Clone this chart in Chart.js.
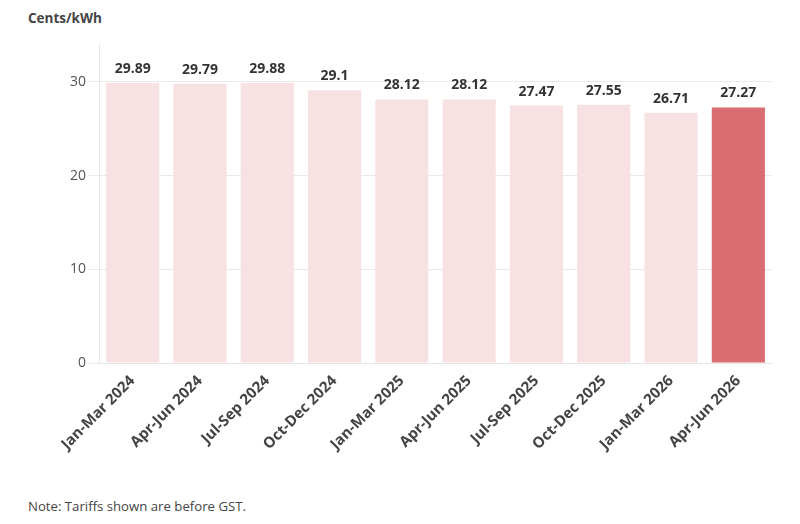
<!DOCTYPE html>
<html>
<head>
<meta charset="utf-8">
<script src="https://cdn.jsdelivr.net/npm/chart.js@4"></script>
<style>
  body { margin: 0; background: #fff; font-family: "Open Sans", sans-serif; }
  #wrap { position: absolute; left: 0; top: 33px; width: 800px; height: 457px; }
  #title { position: absolute; left: 28px; top: 9px; font-size: 13.5px; font-weight: bold; color: #444; }
  #note { position: absolute; left: 28px; top: 497px; font-size: 13.2px; color: #444; }
</style>
</head>
<body>
<div id="title">Cents/kWh</div>
<div id="wrap"><canvas id="myChart"></canvas></div>
<div id="note">Note: Tariffs shown are before GST.</div>
<script>

const quarters = ["Jan-Mar 2024", "Apr-Jun 2024", "Jul-Sep 2024", "Oct-Dec 2024", "Jan-Mar 2025",
  "Apr-Jun 2025", "Jul-Sep 2025", "Oct-Dec 2025", "Jan-Mar 2026", "Apr-Jun 2026"]
const tariffs = [29.89, 29.79, 29.88, 29.1, 28.12, 28.12, 27.47, 27.55, 26.71, 27.27]
const yTicks = [0, 10, 20, 30]


// labels over the bars
const barLabels = {
  id: 'barLabels',
  afterDatasetsDraw(chart) {
    const ctx = chart.ctx
    const meta = chart.getDatasetMeta(0)
    ctx.save()
    ctx.font = 'bold 14px "Open Sans", sans-serif'
    ctx.fillStyle = '#333'
    ctx.textAlign = 'center'
    ctx.textBaseline = 'bottom'
    meta.data.forEach((bar, i) => {
      ctx.fillText(String(tariffs[i]), bar.x, bar.y - 7)
    })
    ctx.restore()
  }
}

const ctx = document.getElementById('myChart')

new Chart(ctx, {
  type: 'bar',
  data: {
    labels: quarters,
    datasets: [{
      data: tariffs,
      backgroundColor: tariffs.map((v, i) => i === tariffs.length - 1 ? '#d96d71' : '#f7e1e2'),
      categoryPercentage: 0.79,
      barPercentage: 1
    }]
  },
  options: {
    responsive: true,
    maintainAspectRatio: false,
    animation: false,
    layout: { padding: { left: 0, right: 28, top: 0, bottom: 0 } },
    plugins: { legend: { display: false }, tooltip: { enabled: false } },
    scales: {
      x: {
        afterFit: axis => { axis.height = 127 },
        grid: { display: false, drawOnChartArea: false, drawTicks: true, tickLength: 6, color: '#e6e6e6' },
        border: { color: '#e6e6e6' },
        ticks: {
          maxRotation: 45, minRotation: 45,
          color: '#444',
          font: { family: 'Open Sans', size: 15, weight: 'bold' }
        }
      },
      y: {
        min: 0, max: 34,
        afterFit: axis => { axis.width = 99 },
        afterBuildTicks: axis => { axis.ticks = yTicks.map(v => ({ value: v })) },
        grid: { color: '#e9e9e9', tickLength: 10 },
        border: { color: '#e6e6e6' },
        ticks: { color: '#555', padding: 3, font: { family: 'Open Sans', size: 14 } }
      }
    }
  },
  plugins: [barLabels]
})
</script>
</body>
</html>
